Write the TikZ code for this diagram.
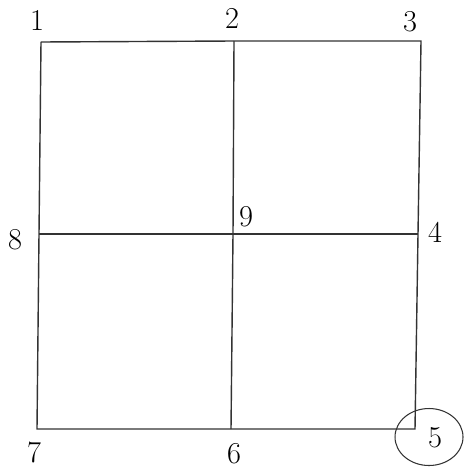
\documentclass[tikz,border=0pt]{standalone}
\usepackage{tikz}
\usetikzlibrary{shapes.geometric}

\begin{document}
\begin{tikzpicture}[x=0.02cm,y=-0.02cm,
  edge/.style={line width=0.8pt,black!80},
  lbl/.style={font=\LARGE,inner sep=1pt},
  ring/.style={draw,ellipse,line width=0.6pt,black!80,minimum width=1.36cm,minimum height=1.14cm}]
  \useasboundingbox (0,0) rectangle (472,470);
  % corner and midpoints
  \coordinate (p1) at (41,42);  \coordinate (p2) at (234,41);  \coordinate (p3) at (421,41);
  \coordinate (p8) at (39,234); \coordinate (p9) at (233,234); \coordinate (p4) at (418,234);
  \coordinate (p7) at (37,429); \coordinate (p6) at (231,429); \coordinate (p5) at (415,429);
  % grid
  \draw[edge] (p1) -- (p2) -- (p3) -- (p4) -- (p5) -- (p6) -- (p7) -- (p8) -- (p1);
  \draw[edge] (p2) -- (p9) -- (p6);
  \draw[edge] (p8) -- (p9) -- (p4);
  % labels
  \node[lbl] (l1) at (37,20) {1};
  \node[lbl] (l2) at (232,18) {2};
  \node[lbl] (l3) at (410,22) {3};
  \node[lbl] (l8) at (15,240) {8};
  \node[lbl] (l9) at (246,217) {9};
  \node[lbl] (l4) at (435,232) {4};
  \node[lbl] (l7) at (34,452) {7};
  \node[lbl] (l6) at (234,454) {6};
  \node[lbl] (l5) at (435,438) {5};
  \node[ring] (r5) at (429,437) {};
\end{tikzpicture}
\end{document}
